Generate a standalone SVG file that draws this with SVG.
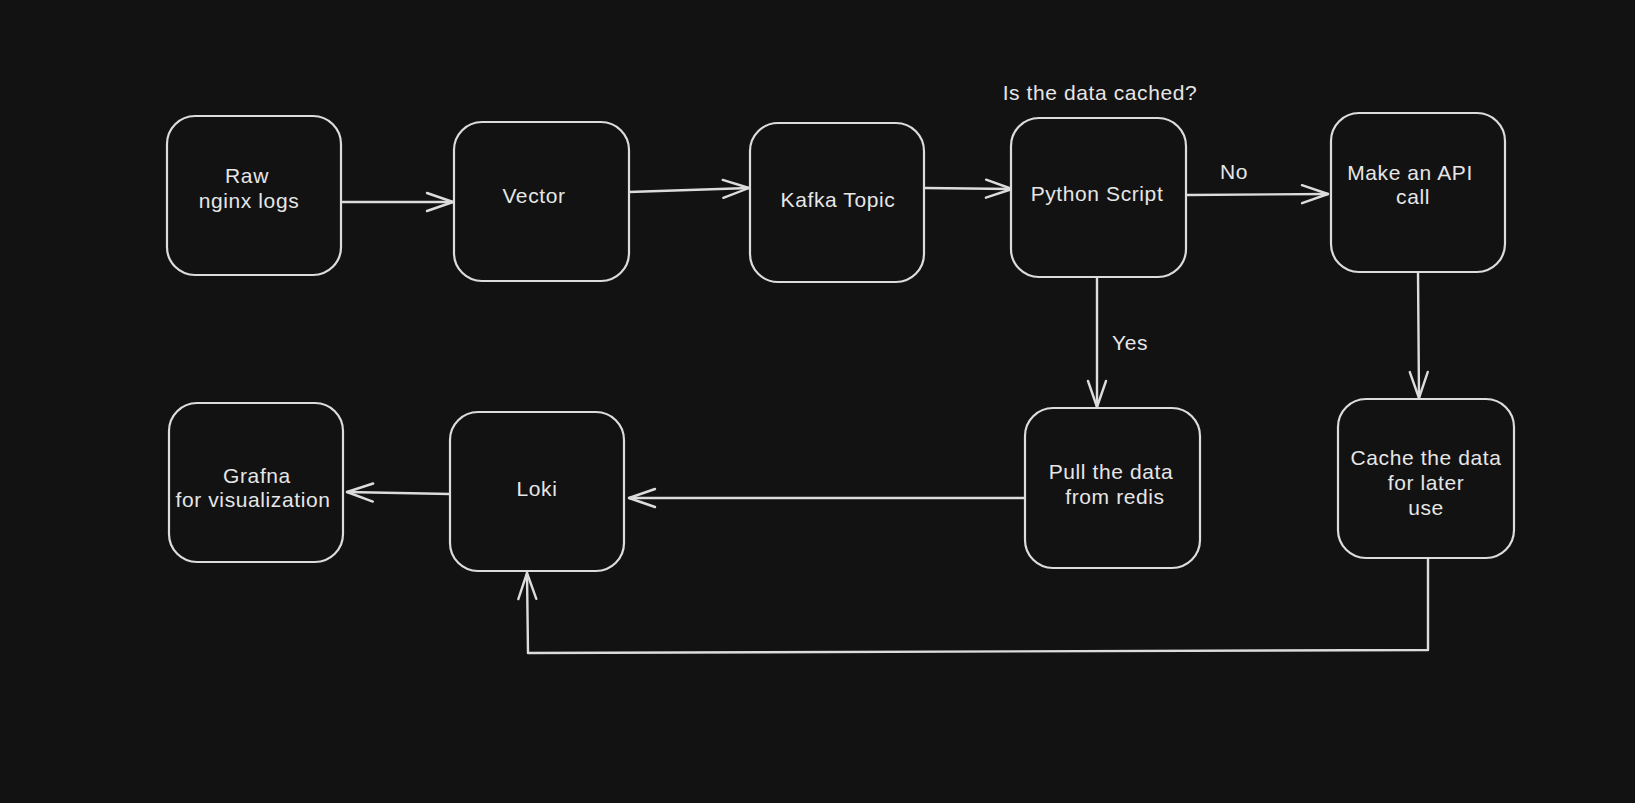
<svg xmlns="http://www.w3.org/2000/svg" width="1635" height="803" viewBox="0 0 1635 803">
<defs>
<style>
.bg{fill:#121212}
.box{fill:#121212;stroke:#dcdcdc;stroke-width:2.2}
.t{fill:#e6e6e6;font-family:"Liberation Sans","Noto Sans",sans-serif;font-size:21px;letter-spacing:0.6px;text-anchor:middle}
.c{fill:none;stroke:#dcdcdc;stroke-width:2.4;stroke-linecap:round;stroke-linejoin:round}
</style>
<marker id="ah" markerUnits="userSpaceOnUse" viewBox="-30 -14 34 28" refX="0" refY="0" markerWidth="34" markerHeight="28" orient="auto">
<path d="M-26,-9 L0,0 L-26,9" fill="none" stroke="#dcdcdc" stroke-width="2.4" stroke-linecap="round" stroke-linejoin="round"/>
</marker>
</defs>
<rect class="bg" x="0" y="0" width="1635" height="803"/>

<g id="connectors">
<path class="c" d="M341,202 L453,202" marker-end="url(#ah)"/>
<path class="c" d="M629,192 L749,188" marker-end="url(#ah)"/>
<path class="c" d="M925,188 L1012,189" marker-end="url(#ah)"/>
<path class="c" d="M1187,195 L1328,194" marker-end="url(#ah)"/>
<path class="c" d="M1097,277 L1097,407" marker-end="url(#ah)"/>
<path class="c" d="M1418,272 L1419,398" marker-end="url(#ah)"/>
<path class="c" d="M1025,498 L629,498" marker-end="url(#ah)"/>
<path class="c" d="M450,494 L347,492" marker-end="url(#ah)"/>
<path class="c" d="M1428,559 L1428,650 L528,653 L527,573" marker-end="url(#ah)"/>
<text class="t" x="1234" y="179">No</text>
<text class="t" x="1130" y="350">Yes</text>
</g>

<text class="t" x="1100" y="100">Is the data cached?</text>

<g id="raw">
<rect class="box" x="167" y="116" width="174" height="159" rx="28"/>
<text class="t" x="247" y="183">Raw</text>
<text class="t" x="249" y="208">nginx logs</text>
</g>
<g id="vector">
<rect class="box" x="454" y="122" width="175" height="159" rx="28"/>
<text class="t" x="534" y="203">Vector</text>
</g>
<g id="kafka">
<rect class="box" x="750" y="123" width="174" height="159" rx="28"/>
<text class="t" x="838" y="207">Kafka Topic</text>
</g>
<g id="python">
<rect class="box" x="1011" y="118" width="175" height="159" rx="28"/>
<text class="t" x="1097" y="201">Python Script</text>
</g>
<g id="api">
<rect class="box" x="1331" y="113" width="174" height="159" rx="28"/>
<text class="t" x="1410" y="180">Make an API</text>
<text class="t" x="1413" y="204">call</text>
</g>
<g id="cache">
<rect class="box" x="1338" y="399" width="176" height="159" rx="28"/>
<text class="t" x="1426" y="465">Cache the data</text>
<text class="t" x="1426" y="490">for later</text>
<text class="t" x="1426" y="515">use</text>
</g>
<g id="pull">
<rect class="box" x="1025" y="408" width="175" height="160" rx="28"/>
<text class="t" x="1111" y="479">Pull the data</text>
<text class="t" x="1115" y="504">from redis</text>
</g>
<g id="loki">
<rect class="box" x="450" y="412" width="174" height="159" rx="28"/>
<text class="t" x="537" y="496">Loki</text>
</g>
<g id="grafna">
<rect class="box" x="169" y="403" width="174" height="159" rx="28"/>
<text class="t" x="257" y="483">Grafna</text>
<text class="t" x="253" y="507">for visualization</text>
</g>
</svg>
